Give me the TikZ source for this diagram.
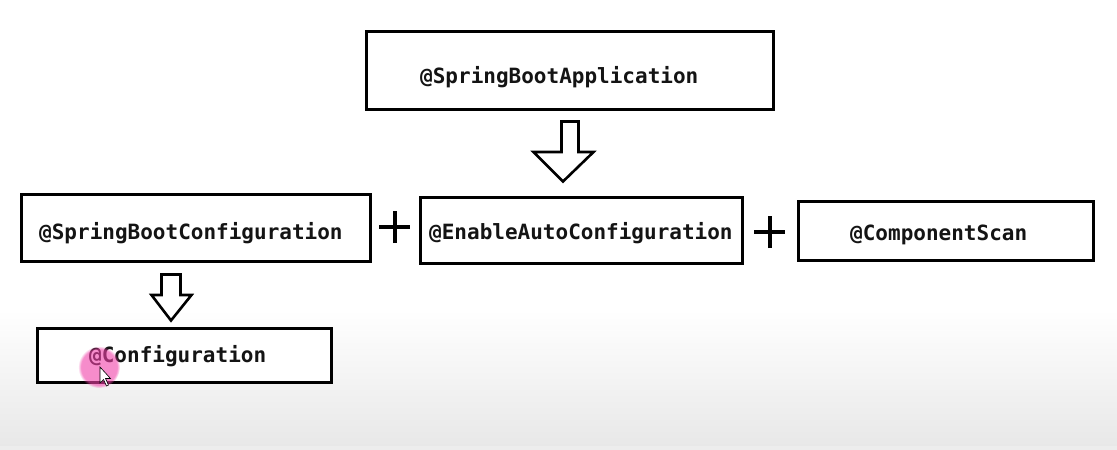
\documentclass[tikz,border=0pt]{standalone}
\usepackage{fontspec}
\setmonofont{DejaVu Sans Mono}
\usetikzlibrary{fadings}
\begin{document}
\begin{tikzpicture}[x=1pt,y=-1pt,
  box/.style={draw=black,line width=3pt,fill=white,inner sep=0pt},
  lbl/.style={anchor=base west,inner sep=0pt,font=\ttfamily\bfseries\fontsize{21}{24}\selectfont,text=black!92},
  hollow/.style={draw=black,line width=2.6pt,fill=white,line join=miter},
  plus/.style={draw=black,line width=3.2pt}]
\useasboundingbox (0,0) rectangle (1117,450);
\fill[white] (0,0) rectangle (1117,450);
\shade[top color=white,bottom color=black!9] (0,310) rectangle (1117,446);
\fill[black!7] (0,446) rectangle (1117,450);
% boxes
\node[box,minimum width=407pt,minimum height=78pt] (b1) at (570,70.5) {};
\node[box,minimum width=349pt,minimum height=67pt] (b2) at (196,228) {};
\node[box,minimum width=322pt,minimum height=66pt] (b3) at (581.5,230.5) {};
\node[box,minimum width=295pt,minimum height=59pt] (b4) at (946,231) {};
\node[box,minimum width=294pt,minimum height=54pt] (b5) at (184.5,355) {};
% labels
\node[lbl] (t1) at (420,83) {@SpringBootApplication};
\node[lbl] (t2) at (39,239) {@SpringBootConfiguration};
\node[lbl] (t3) at (429,239) {@EnableAutoConfiguration};
\node[lbl] (t4) at (850,240) {@ComponentScan};
\node[lbl] (t5) at (89,362) {@Configuration};
% hollow arrows
\draw[hollow] (561.5,121.5) -- (578.5,121.5) -- (578.5,152) -- (593.5,152)
  -- (563,181.5) -- (533.5,152) -- (561.5,152) -- cycle;
\draw[hollow] (161.5,274.5) -- (180.5,274.5) -- (180.5,295) -- (191.5,295)
  -- (171,320.5) -- (151.5,295) -- (161.5,295) -- cycle;
% plus signs
\coordinate (p1) at (395,227);
\coordinate (p2) at (770,232);
\draw[plus] ([xshift=-16pt]p1) -- ([xshift=15pt]p1) ([yshift=-16pt]p1) -- ([yshift=16pt]p1);
\draw[plus] ([xshift=-16pt]p2) -- ([xshift=15pt]p2) ([yshift=-16pt]p2) -- ([yshift=16pt]p2);
% cursor highlight
\fill[magenta!75!white,opacity=0.6,path fading=circle with fuzzy edge 15 percent] (99,367) circle (21pt);
\draw[black,line width=0.6pt,fill=white] (100,367) -- (100,383) -- (103.5,379.5) -- (106.5,386) -- (108.5,385) -- (105.5,378.5) -- (110.5,378.5) -- cycle;
\end{tikzpicture}
\end{document}
